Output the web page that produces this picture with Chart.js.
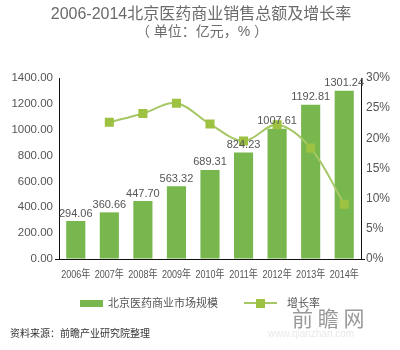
<!DOCTYPE html>
<html>
<head>
<meta charset="utf-8">
<script src="https://cdn.jsdelivr.net/npm/chart.js@4"></script>
<style>
    html, body { margin: 0; padding: 0; background: #fff; }
    #wrap { width: 400px; height: 350px; position: relative; }
</style>
</head>
<body>
<div id="wrap"><canvas id="salesChart" width="400" height="350"></canvas></div>
<script>
const years = ["2006年", "2007年", "2008年", "2009年", "2010年", "2011年", "2012年", "2013年", "2014年"];
const salesTotal = [294.06, 360.66, 447.70, 563.32, 689.31, 824.23, 1007.61, 1192.81, 1301.24];
const growthRate = [null, 22.65, 24.13, 25.83, 22.37, 19.57, 22.25, 18.38, 9.09];
const salesTicks = [0, 200, 400, 600, 800, 1000, 1200, 1400];
const rateTicks = [0, 5, 10, 15, 20, 25, 30];

const titleText = "2006-2014北京医药商业销售总额及增长率";
const subtitleText = "（ 单位：亿元，% ）";
const barLabel = "北京医药商业市场规模";
const lineLabel = "增长率";
const sourceText = "资料来源：前瞻产业研究院整理";

const BAR_COLOR = "#77b74e";
const LINE_COLOR = "#a6c765";
const POINT_COLOR = "#9dc141";
const TEXT_COLOR = "#555";
const FONT = "'Liberation Sans', 'Noto Sans CJK SC', sans-serif";

// titles, legend, source line, value labels and squeezed year labels
const decor = {
    id: "decor",
    afterDatasetsDraw(chart) {
        const ctx = chart.ctx;
        ctx.save();
        ctx.fillStyle = TEXT_COLOR;
        ctx.font = "11px " + FONT;
        ctx.textAlign = "center";
        ctx.textBaseline = "bottom";
        chart.getDatasetMeta(1).data.forEach((bar, i) => {
            ctx.fillText(salesTotal[i].toFixed(2), bar.x, bar.y - 2);
        });
        ctx.restore();
    },
    afterDraw(chart) {
        const ctx = chart.ctx;
        const xs = chart.scales.x;
        ctx.save();
        ctx.textBaseline = "middle";
        ctx.textAlign = "center";

        // year labels, condensed horizontally
        ctx.fillStyle = TEXT_COLOR;
        ctx.font = "11px " + FONT;
        years.forEach((y, i) => {
            const px = xs.getPixelForValue(i);
            ctx.save();
            ctx.translate(px, xs.top + 16);
            ctx.scale(0.82, 1);
            ctx.fillText(y, 0, 0);
            ctx.restore();
        });

        ctx.fillStyle = "#6b6b6b";
        ctx.font = "16px " + FONT;
        ctx.fillText(titleText, 201, 15);
        ctx.font = "14px " + FONT;
        ctx.fillText(subtitleText, 202, 32);

        // legend
        ctx.textAlign = "left";
        ctx.fillStyle = BAR_COLOR;
        ctx.fillRect(80, 300, 23, 7);
        ctx.fillStyle = TEXT_COLOR;
        ctx.font = "11px " + FONT;
        ctx.fillText(barLabel, 108, 304);

        ctx.strokeStyle = LINE_COLOR;
        ctx.lineWidth = 2;
        ctx.beginPath();
        ctx.moveTo(244, 303);
        ctx.lineTo(277, 303);
        ctx.stroke();
        ctx.fillStyle = POINT_COLOR;
        ctx.fillRect(256, 299, 9, 9);
        ctx.fillStyle = TEXT_COLOR;
        ctx.fillText(lineLabel, 287, 304);

        // watermark
        ctx.fillStyle = "rgba(110,110,110,0.7)";
        ctx.font = "21px 'Noto Sans CJK SC', sans-serif";
        ctx.fillText("前 瞻 网", 292, 318);
        ctx.fillStyle = "rgba(205,205,205,0.45)";
        ctx.font = "10px " + FONT;
        ctx.fillText("www.qianzhan.com", 268, 334);

        ctx.fillStyle = "#333";
        ctx.font = "10px 'Noto Sans CJK SC', sans-serif";
        ctx.fillText(sourceText, 10, 333);
        ctx.restore();
    }
};

new Chart(document.getElementById("salesChart"), {
    data: {
        labels: years,
        datasets: [
            {
                type: "line",
                label: lineLabel,
                data: growthRate,
                yAxisID: "y1",
                order: 0,
                borderColor: LINE_COLOR,
                borderWidth: 2,
                tension: 0.35,
                pointStyle: "rect",
                pointRadius: 6.4,
                pointBackgroundColor: POINT_COLOR,
                pointBorderWidth: 0
            },
            {
                type: "bar",
                label: barLabel,
                data: salesTotal,
                yAxisID: "y",
                order: 1,
                backgroundColor: BAR_COLOR,
                barPercentage: 0.57,
                categoryPercentage: 1
            }
        ]
    },
    options: {
        responsive: false,
        animation: false,
        layout: { padding: { top: 78, bottom: 66, left: 0, right: 0 } },
        plugins: {
            legend: { display: false },
            tooltip: { enabled: false }
        },
        scales: {
            x: {
                grid: { display: false },
                border: { display: true, color: "#111", width: 1 },
                ticks: { display: false },
                afterFit(scale) { scale.height = 25; }
            },
            y: {
                position: "left",
                min: 0,
                max: 1400,
                afterBuildTicks(scale) { scale.ticks = salesTicks.map(v => ({ value: v })); },
                grid: {
                    drawOnChartArea: false,
                    tickLength: 4,
                    color: c => (c.tick && c.tick.value === 0 ? "#111" : "rgba(0,0,0,0)")
                },
                border: { display: true, color: "#111", width: 1 },
                ticks: {
                    color: TEXT_COLOR,
                    font: { family: FONT, size: 11.5 },
                    padding: 2,
                    callback: v => v.toFixed(2)
                },
                afterFit(scale) { scale.width = 59; }
            },
            y1: {
                position: "right",
                min: 0,
                max: 30,
                afterBuildTicks(scale) { scale.ticks = rateTicks.map(v => ({ value: v })); },
                grid: {
                    drawOnChartArea: false,
                    tickLength: 4,
                    color: c => (c.tick && c.tick.value === 0 ? "#111" : "rgba(0,0,0,0)")
                },
                border: { display: true, color: "#111", width: 1 },
                ticks: {
                    color: TEXT_COLOR,
                    font: { family: FONT, size: 12 },
                    padding: 1,
                    callback: v => v + "%"
                },
                afterFit(scale) { scale.width = 39; }
            }
        }
    },
    plugins: [decor]
});
</script>
</body>
</html>
